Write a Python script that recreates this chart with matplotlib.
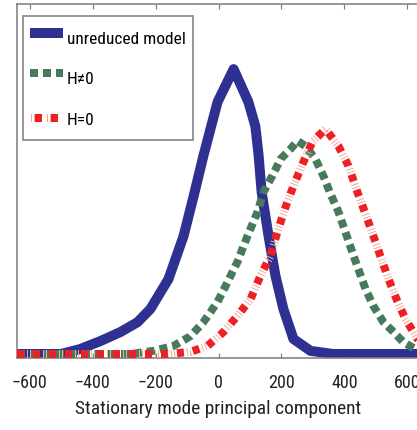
import matplotlib
matplotlib.use("Agg")
import matplotlib.pyplot as plt
from matplotlib import font_manager
from matplotlib.font_manager import FontProperties
from matplotlib.textpath import TextPath
from matplotlib.ft2font import FT2Font
from matplotlib.lines import Line2D
from matplotlib.legend_handler import HandlerBase

# ---- data ----
x_unreduced = [-640, -500, -440, -375, -311, -257, -216, -159, -111, -79, -48, -3, 48, 95, 117, 127, 137, 159, 181, 206, 238, 292, 365, 640]
y_unreduced = [0, 0, 0.014, 0.037, 0.063, 0.091, 0.129, 0.214, 0.337, 0.451, 0.566, 0.72, 0.814, 0.72, 0.651, 0.571, 0.463, 0.337, 0.223, 0.129, 0.043, 0.009, 0, 0]

x_hneq0 = [-640, -279, -206, -143, -89, -48, -3, 29, 60, 92, 124, 143, 171, 197, 229, 251, 276, 308, 333, 356, 381, 403, 425, 444, 467, 492, 524, 556, 587, 625, 640]
y_hneq0 = [0, 0, 0.009, 0.023, 0.051, 0.091, 0.149, 0.206, 0.263, 0.337, 0.406, 0.463, 0.509, 0.557, 0.586, 0.609, 0.594, 0.557, 0.509, 0.457, 0.406, 0.349, 0.291, 0.243, 0.186, 0.137, 0.091, 0.063, 0.034, 0.014, 0.009]

x_heq0 = [-640, -162, -89, -35, 16, 60, 102, 133, 165, 187, 213, 238, 267, 298, 340, 381, 413, 441, 467, 492, 514, 540, 568, 594, 632, 640]
y_heq0 = [0, 0, 0.006, 0.023, 0.063, 0.109, 0.157, 0.223, 0.28, 0.349, 0.42, 0.48, 0.543, 0.606, 0.643, 0.594, 0.537, 0.463, 0.4, 0.337, 0.28, 0.214, 0.151, 0.1, 0.043, 0.035]

xticks = [-600, -400, -200, 0, 200, 400, 600]
xlabel = "Stationary mode principal component"
labels = ["unreduced model", "H\u22600", "H=0"]

# ---- pick the most condensed-looking installed sans font ----
BASES = ('Liberation Sans', 'DejaVu Sans', 'Noto Sans', 'Roboto', 'Open Sans', 'Lato', 'Inter')
BAD = ('Italic', 'Oblique', 'Bold', 'Light', 'Thin', 'Medium', 'Black', 'SemiBold',
       'ExtraBold', 'Heavy', 'Mono', 'CJK', 'Serif', 'Symbols', 'Math', 'Emoji')
TARGET_RATIO = 25.0 / 16.0  # ink width / height of "200" in the reference


def ink(text, fp, size=100.0):
    e = TextPath((0, 0), text, size=size, prop=fp).get_extents()
    return e.width / size, e.height / size


best = None
seen = set()
for f in font_manager.fontManager.ttflist:
    if f.fname in seen:
        continue
    seen.add(f.fname)
    nm = f.name
    ok_name = any(nm == b or (nm.startswith(b + ' ') and ('Cond' in nm or 'Narrow' in nm)) for b in BASES)
    if not ok_name or f.style != 'normal':
        continue
    base = f.fname.split('/')[-1]
    if any(b in base for b in BAD) or any(b in nm for b in BAD):
        continue
    if f.weight not in (400, 'normal', 'regular', 'book'):
        continue
    try:
        ft = FT2Font(f.fname)
        if ft.get_char_index(0x2260) == 0 or ft.get_char_index(0x2212) == 0:
            continue
        fp = FontProperties(fname=f.fname)
        w, h = ink("200", fp)
        if h <= 0:
            continue
        score = abs(w / h - TARGET_RATIO)
    except Exception:
        continue
    if best is None or score < best[0]:
        best = (score, f.fname)

if best is not None:
    FNAME = best[1]
    def FP(size):
        return FontProperties(fname=FNAME, size=size)
else:
    def FP(size):
        return FontProperties(family=['Liberation Sans', 'DejaVu Sans'], size=size)

PX2PT = 0.72  # points per pixel at dpi 100


def size_for(text, target_px):
    w, _ = ink(text, FP(10))
    return target_px * PX2PT / w


fs_tick = size_for("200", 25)
fs_lab = size_for(xlabel, 285)
fs_leg = size_for("unreduced model", 116)

plt.rcParams['lines.scale_dashes'] = False

BLUE = '#2E3192'
GREEN = '#477A5A'
RED = '#EE2024'
SALMON = '#F6A89E'
GRAY = '#808080'
px = PX2PT

fig = plt.figure(figsize=(4.17, 4.31), dpi=100)
ax = fig.add_axes([17/417, (431-359)/431, (420-17)/417, (359-5)/431])

ax.plot(x_unreduced, y_unreduced, color=BLUE, lw=10*px, solid_joinstyle='round',
        solid_capstyle='butt', zorder=2)
ax.plot(x_hneq0, y_hneq0, color=GREEN, lw=8*px, linestyle=(0, (8*px, 5*px)),
        dash_capstyle='butt', zorder=3)
ax.plot(x_heq0, y_heq0, color=SALMON, lw=8*px,
        linestyle=(6*px, (1*px, 2*px, 1*px, 12*px)), dash_capstyle='butt', zorder=4)
ax.plot(x_heq0, y_heq0, color=RED, lw=8*px, linestyle=(0, (7*px, 9*px)),
        dash_capstyle='butt', zorder=5)

ax.set_xlim(-640, 640)
ax.set_ylim(-0.0114, 1.0)
ax.set_xticks(xticks)
ax.set_xticklabels([("\u2212" + str(-v)) if v < 0 else str(v) for v in xticks])
ax.set_yticks([])
ax.tick_params(axis='x', direction='in', top=True, length=5*px, width=1.2*px,
               color=GRAY, pad=11)
for lbl in ax.get_xticklabels():
    lbl.set_fontproperties(FP(fs_tick))
    lbl.set_color('#222222')
for s in ax.spines.values():
    s.set_color(GRAY)
    s.set_linewidth(1.6*px)
ax.set_xlabel(xlabel, fontproperties=FP(fs_lab), color='#222222')
ax.xaxis.set_label_coords(0.5, (359 - 400) / 354)


class RedHandler(HandlerBase):
    def create_artists(self, legend, orig, xd, yd, w, h, fontsize, trans):
        y = h / 2 - yd
        l1 = Line2D([-xd, -xd + w], [y, y], color=SALMON, lw=8*px,
                    linestyle=(-1*px, (1*px, 2*px, 1*px, 12*px)), dash_capstyle='butt', transform=trans)
        l2 = Line2D([-xd, -xd + w], [y, y], color=RED, lw=8*px,
                    linestyle=(-5*px, (7*px, 9*px)), dash_capstyle='butt', transform=trans)
        return [l1, l2]


h_blue = Line2D([], [], color=BLUE, lw=10*px, solid_capstyle='butt')
h_green = Line2D([], [], color=GREEN, lw=8*px, linestyle=(0, (8*px, 5*px)), dash_capstyle='butt')
h_red = Line2D([], [], color=RED)

fs_px = fs_leg / PX2PT
bp = 7 / fs_px
hl = (63 - 30) / fs_px
htp = 4 / fs_px
params = dict(hh=32 / fs_px, ls=9 / fs_px)
H = 431
leg = None
for it in range(3):
    if leg is not None:
        leg.remove()
    leg = ax.legend([h_blue, h_green, h_red], labels, loc='upper left',
                    bbox_to_anchor=(0.015, 0.966), borderaxespad=0, prop=FP(fs_leg),
                    handlelength=hl, handletextpad=htp, handleheight=params['hh'],
                    labelspacing=params['ls'], borderpad=bp,
                    fancybox=False, framealpha=1, edgecolor=GRAY,
                    handler_map={h_red: RedHandler()})
    leg.get_frame().set_linewidth(1.6*px)
    fig.canvas.draw()
    r = fig.canvas.get_renderer()
    cy = [H - (t.get_window_extent(r).y0 + t.get_window_extent(r).y1) / 2 for t in leg.get_texts()]
    pitch = (cy[2] - cy[0]) / 2
    # adjust row height to put first row center at y=40, then spacing for pitch 41
    d_top = 40 - cy[0]
    params['hh'] += 2 * d_top / fs_px
    params['ls'] += (41 - pitch - 2 * d_top) / fs_px

fig.savefig('out.png', dpi=100)
